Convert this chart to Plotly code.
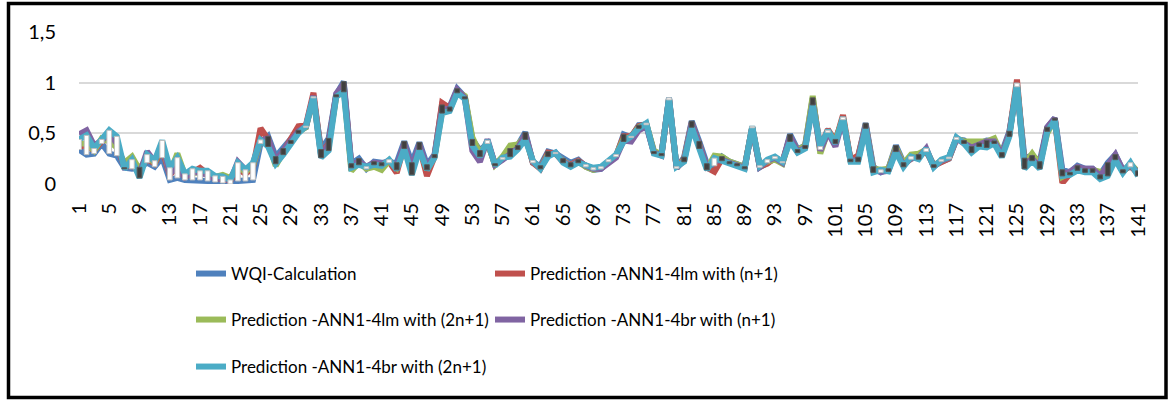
import plotly.graph_objects as go

# Sample index 1..141
samples = list(range(1, 142))

wqi_calc = [
    0.34, 0.29, 0.30, 0.40, 0.30, 0.28, 0.16, 0.15, 0.165, 0.21,
    0.17, 0.26, 0.04, 0.06, 0.04, 0.04, 0.04, 0.03, 0.02, 0.01,
    0.00, 0.03, 0.03, 0.04, 0.40, 0.47, 0.27, 0.35, 0.43, 0.53,
    0.56, 0.85, 0.34, 0.45, 0.88, 1.01, 0.20, 0.25, 0.15, 0.22,
    0.21, 0.21, 0.21, 0.42, 0.21, 0.41, 0.19, 0.29, 0.78, 0.76,
    0.94, 0.86, 0.44, 0.33, 0.40, 0.20, 0.245, 0.35, 0.38, 0.51,
    0.21, 0.18, 0.32, 0.30, 0.25, 0.21, 0.24, 0.17, 0.14, 0.15,
    0.22, 0.27, 0.49, 0.46, 0.58, 0.585, 0.32, 0.30, 0.83, 0.155,
    0.265, 0.62, 0.42, 0.20, 0.18, 0.27, 0.22, 0.20, 0.17, 0.555,
    0.165, 0.21, 0.25, 0.21, 0.49, 0.34, 0.38, 0.85, 0.34, 0.51,
    0.44, 0.635, 0.245, 0.265, 0.60, 0.17, 0.115, 0.15, 0.38, 0.21,
    0.245, 0.29, 0.32, 0.19, 0.225, 0.25, 0.44, 0.43, 0.37, 0.405,
    0.43, 0.425, 0.31, 0.52, 0.96, 0.255, 0.28, 0.22, 0.56, 0.65,
    0.14, 0.115, 0.18, 0.15, 0.15, 0.09, 0.21, 0.29, 0.14, 0.17,
    0.13,
]

ann_lm_n1 = [
    0.37, 0.38, 0.33, 0.42, 0.45, 0.38, 0.17, 0.18, 0.12, 0.25,
    0.20, 0.34, 0.09, 0.17, 0.07, 0.12, 0.16, 0.10, 0.06, 0.05,
    0.03, 0.15, 0.10, 0.16, 0.55, 0.44, 0.22, 0.32, 0.44, 0.57,
    0.58, 0.90, 0.30, 0.40, 0.87, 0.97, 0.18, 0.22, 0.16, 0.20,
    0.19, 0.22, 0.11, 0.38, 0.14, 0.37, 0.08, 0.27, 0.80, 0.75,
    0.92, 0.86, 0.40, 0.28, 0.42, 0.19, 0.25, 0.30, 0.36, 0.48,
    0.21, 0.15, 0.31, 0.30, 0.22, 0.19, 0.23, 0.18, 0.15, 0.16,
    0.23, 0.28, 0.47, 0.47, 0.57, 0.59, 0.31, 0.29, 0.84, 0.16,
    0.25, 0.60, 0.39, 0.16, 0.12, 0.25, 0.21, 0.19, 0.16, 0.56,
    0.17, 0.20, 0.26, 0.22, 0.46, 0.33, 0.37, 0.82, 0.36, 0.54,
    0.42, 0.68, 0.24, 0.28, 0.57, 0.14, 0.13, 0.14, 0.35, 0.19,
    0.25, 0.27, 0.33, 0.18, 0.21, 0.25, 0.45, 0.41, 0.35, 0.39,
    0.39, 0.41, 0.28, 0.50, 1.03, 0.18, 0.26, 0.18, 0.55, 0.64,
    0.01, 0.10, 0.15, 0.14, 0.14, 0.08, 0.17, 0.27, 0.13, 0.18,
    0.10,
]

ann_lm_2n1 = [
    0.40, 0.40, 0.33, 0.45, 0.42, 0.36, 0.21, 0.27, 0.14, 0.27,
    0.21, 0.38, 0.11, 0.30, 0.09, 0.10, 0.12, 0.11, 0.07, 0.09,
    0.06, 0.17, 0.12, 0.18, 0.42, 0.42, 0.18, 0.31, 0.41, 0.51,
    0.56, 0.86, 0.29, 0.38, 0.86, 0.95, 0.13, 0.21, 0.15, 0.17,
    0.14, 0.23, 0.16, 0.37, 0.13, 0.36, 0.14, 0.27, 0.72, 0.73,
    0.91, 0.87, 0.46, 0.30, 0.41, 0.19, 0.27, 0.38, 0.39, 0.47,
    0.22, 0.16, 0.29, 0.30, 0.23, 0.18, 0.22, 0.17, 0.14, 0.16,
    0.22, 0.28, 0.45, 0.46, 0.56, 0.59, 0.33, 0.29, 0.84, 0.16,
    0.24, 0.59, 0.38, 0.15, 0.28, 0.27, 0.22, 0.20, 0.17, 0.56,
    0.18, 0.22, 0.24, 0.20, 0.45, 0.33, 0.38, 0.87, 0.30, 0.52,
    0.42, 0.65, 0.23, 0.24, 0.58, 0.15, 0.14, 0.15, 0.36, 0.20,
    0.29, 0.30, 0.34, 0.18, 0.23, 0.26, 0.45, 0.42, 0.42, 0.41,
    0.42, 0.45, 0.29, 0.49, 0.98, 0.20, 0.30, 0.19, 0.50, 0.64,
    0.07, 0.11, 0.14, 0.13, 0.14, 0.12, 0.12, 0.26, 0.12, 0.20,
    0.12,
]

ann_br_n1 = [
    0.49, 0.53, 0.38, 0.43, 0.50, 0.40, 0.17, 0.20, 0.10, 0.32,
    0.22, 0.40, 0.10, 0.18, 0.07, 0.12, 0.11, 0.09, 0.05, 0.06,
    0.03, 0.22, 0.14, 0.20, 0.43, 0.45, 0.23, 0.32, 0.41, 0.52,
    0.57, 0.87, 0.28, 0.39, 0.89, 0.99, 0.18, 0.22, 0.17, 0.21,
    0.20, 0.23, 0.17, 0.40, 0.15, 0.39, 0.16, 0.28, 0.74, 0.74,
    0.93, 0.85, 0.33, 0.22, 0.44, 0.19, 0.24, 0.29, 0.35, 0.49,
    0.22, 0.16, 0.28, 0.31, 0.22, 0.18, 0.22, 0.18, 0.15, 0.15,
    0.21, 0.26, 0.43, 0.42, 0.53, 0.57, 0.31, 0.28, 0.85, 0.16,
    0.23, 0.60, 0.38, 0.17, 0.22, 0.24, 0.21, 0.19, 0.16, 0.56,
    0.17, 0.23, 0.26, 0.21, 0.47, 0.32, 0.36, 0.80, 0.33, 0.51,
    0.37, 0.64, 0.23, 0.24, 0.58, 0.14, 0.12, 0.13, 0.34, 0.18,
    0.26, 0.26, 0.35, 0.17, 0.23, 0.26, 0.45, 0.40, 0.36, 0.39,
    0.42, 0.42, 0.29, 0.50, 0.97, 0.19, 0.25, 0.17, 0.56, 0.65,
    0.10, 0.12, 0.17, 0.15, 0.15, 0.08, 0.18, 0.29, 0.13, 0.19,
    0.11,
]

ann_br_2n1 = [
    0.44, 0.48, 0.35, 0.44, 0.53, 0.47, 0.15, 0.24, 0.06, 0.29,
    0.23, 0.43, 0.16, 0.26, 0.10, 0.15, 0.13, 0.13, 0.08, 0.075,
    0.04, 0.21, 0.14, 0.21, 0.435, 0.37, 0.20, 0.29, 0.40, 0.50,
    0.57, 0.86, 0.26, 0.33, 0.86, 0.91, 0.16, 0.19, 0.17, 0.19,
    0.18, 0.24, 0.14, 0.35, 0.09, 0.34, 0.14, 0.26, 0.70, 0.72,
    0.90, 0.84, 0.38, 0.27, 0.43, 0.18, 0.26, 0.27, 0.34, 0.44,
    0.23, 0.15, 0.27, 0.31, 0.21, 0.17, 0.21, 0.19, 0.16, 0.17,
    0.24, 0.29, 0.42, 0.47, 0.55, 0.60, 0.30, 0.28, 0.85, 0.17,
    0.22, 0.56, 0.35, 0.14, 0.255, 0.23, 0.20, 0.18, 0.15, 0.57,
    0.18, 0.24, 0.27, 0.22, 0.42, 0.31, 0.35, 0.78, 0.37, 0.53,
    0.40, 0.66, 0.22, 0.22, 0.55, 0.115, 0.14, 0.125, 0.32, 0.17,
    0.27, 0.245, 0.35, 0.165, 0.24, 0.265, 0.46, 0.40, 0.31, 0.37,
    0.36, 0.40, 0.265, 0.47, 0.995, 0.15, 0.23, 0.15, 0.52, 0.63,
    0.08, 0.09, 0.135, 0.115, 0.115, 0.05, 0.08, 0.24, 0.11, 0.21,
    0.08,
]

series_names = [
    "WQI-Calculation",
    "Prediction -ANN1-4lm with (n+1)",
    "Prediction -ANN1-4lm with (2n+1)",
    "Prediction -ANN1-4br with (n+1)",
    "Prediction -ANN1-4br with (2n+1)",
]
series_colors = ["#4F81BD", "#C0504D", "#9BBB59", "#8064A2", "#4BACC6"]
series_values = [wqi_calc, ann_lm_n1, ann_lm_2n1, ann_br_n1, ann_br_2n1]

TICK_FONT = dict(family="Lato, Open Sans, sans-serif", size=20, color="#000000")
LEGEND_FONT = dict(family="Lato, Open Sans, sans-serif", size=17, color="#000000")

W, H = 1172, 402
L, R, T, B = 79, 34, 32, 218
pw, ph = W - L - R, H - T - B


def px_x(p):
    return (p - L) / pw


def px_y(p):
    return (H - B - p) / ph


# one legend box per entry: two columns, three rows
legend_ids = ["legend", "legend2", "legend3", "legend4", "legend5"]
legend_px = [(191, 274), (490, 274), (191, 320), (490, 320), (191, 367)]

fig = go.Figure()

for name, color, leg, vals in zip(series_names, series_colors, legend_ids, series_values):
    fig.add_trace(go.Scatter(
        x=samples, y=vals, name=name, mode="lines",
        line=dict(color=color, width=6),
        legend=leg,
    ))

# Up/down bars between the first and the last series (drawn above the lines)
first, last = wqi_calc, ann_br_2n1
bar_base = [min(a, b) for a, b in zip(first, last)]
bar_len = [max(abs(b - a), 0.006) for a, b in zip(first, last)]
bar_fill = ["#FFFFFF" if b >= a else "#404040" for a, b in zip(first, last)]
bar_edge = ["#BFBFBF" if b >= a else "#595959" for a, b in zip(first, last)]
fig.add_trace(go.Bar(
    x=samples, y=bar_len, base=bar_base, width=0.62,
    marker=dict(color=bar_fill, line=dict(color=bar_edge, width=1)),
    showlegend=False, xaxis="x2", yaxis="y2", hoverinfo="skip",
))

legend_layout = {
    lid: dict(
        x=px_x(lx), y=px_y(ly), orientation="h", xanchor="left", yanchor="middle",
        font=LEGEND_FONT, bgcolor="rgba(0,0,0,0)", itemwidth=30,
    )
    for lid, (lx, ly) in zip(legend_ids, legend_px)
}

fig.update_layout(
    width=W, height=H,
    margin=dict(l=L, r=R, t=T, b=B, pad=0),
    paper_bgcolor="#FFFFFF", plot_bgcolor="#FFFFFF",
    separators=",.",
    showlegend=True,
    barmode="overlay",
    xaxis=dict(
        range=[1, 141], tickmode="linear", tick0=1, dtick=4,
        tickangle=-90, tickfont=TICK_FONT, showgrid=False, zeroline=False,
        showline=False, ticks="", ticklabelstandoff=14,
    ),
    yaxis=dict(
        range=[0, 1.5], tickmode="linear", tick0=0, dtick=0.5,
        tickfont=TICK_FONT, showgrid=True, gridcolor="#D9D9D9", gridwidth=2,
        zeroline=False, showline=False, ticks="", ticklabelstandoff=22,
    ),
    xaxis2=dict(overlaying="x", matches="x", visible=False),
    yaxis2=dict(overlaying="y", matches="y", visible=False),
    shapes=[dict(
        type="rect", xref="paper", yref="paper",
        x0=px_x(8.5), x1=px_x(1166), y0=px_y(397.5), y1=px_y(3.5),
        line=dict(color="#000000", width=3.5), fillcolor="rgba(0,0,0,0)",
        layer="above",
    )],
    **legend_layout,
)

fig.write_html("out.html")
